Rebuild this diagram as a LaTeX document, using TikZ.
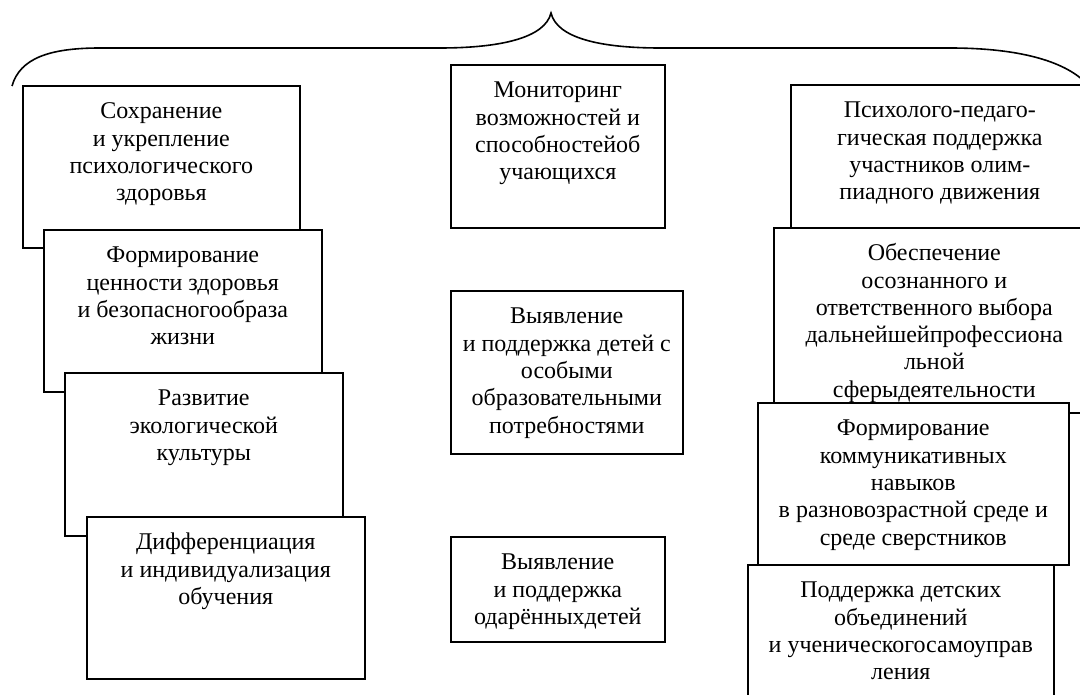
\documentclass[tikz,border=0pt]{standalone}
\usepackage{fontspec}
\setmainfont{Liberation Serif}
\tikzset{
  boxst/.style={draw, line width=1.6pt, fill=white, inner sep=0pt, anchor=north west},
  bracest/.style={draw, line width=1.6pt}
}
\newcommand{\bx}[6]{\node[boxst] (#1) at (#2,#3) {\parbox[c][#5pt][t]{#4pt}{\centering\fontsize{24pt}{27.3pt}\selectfont\rule{0pt}{33pt}#6}};}
\begin{document}
\begin{tikzpicture}[x=1pt,y=-1pt]
\useasboundingbox (0,0) rectangle (1080,695);
\clip (0,0) rectangle (1080,695);
% brace
\draw[bracest] (12,86) .. controls (20,58) and (50,48) .. (100,48) -- (440,48)
  .. controls (500,48) and (545,38) .. (551,13)
  .. controls (557,38) and (600,48) .. (660,48) -- (950,48)
  .. controls (1010,48) and (1060,58) .. (1085,82);
% left column
\bx{L1}{22}{85}{277}{162}{Сохранение\\ и укрепление\\ психологического\\ здоровья}
\bx{L2}{43}{229}{278}{162}{Формирование\\ ценности здоровья\\ и безопасногообраза\\ жизни}
\bx{L3}{64}{372}{278}{163}{Развитие\\ экологической\\ культуры}
\bx{L4}{86}{516}{278}{162}{Дифференциация\\ и индивидуализация\\ обучения}
% middle column
\bx{M1}{450}{64}{214}{163}{Мониторинг\\ возможностей и\\ способностейоб\\ учающихся}
\bx{M2}{450}{290}{232}{163}{Выявление\\ и поддержка детей с\\ особыми\\ образовательными\\ потребностями}
\bx{M3}{450}{536}{214}{105}{Выявление\\ и поддержка\\ одарённыхдетей}
% right column
\bx{R1}{790}{84}{298}{143}{Психолого-педаго-\\ гическая поддержка\\ участников олим-\\ пиадного движения}
\bx{R2}{773}{227}{321}{185}{Обеспечение\\ осознанного и\\ ответственного выбора\\ дальнейшейпрофессиона\\ льной\\ сферыдеятельности}
\bx{R3}{757}{402}{311}{162}{Формирование\\ коммуникативных\\ навыков\\ в разновозрастной среде и\\ среде сверстников}
\bx{R4}{747}{564}{306}{150}{Поддержка детских\\ объединений\\ и ученическогосамоуправ\\ ления}
\end{tikzpicture}
\end{document}
